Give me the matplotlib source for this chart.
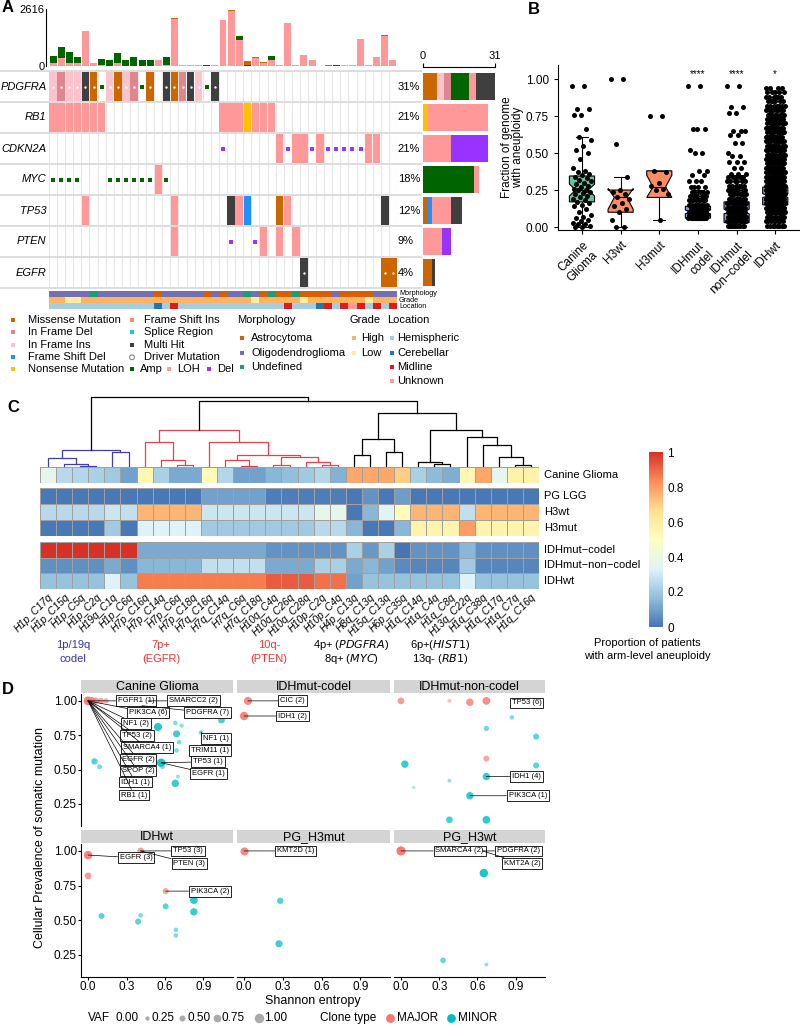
import numpy as np
import pandas as pd
import matplotlib
matplotlib.use("Agg")
import matplotlib.pyplot as plt
from matplotlib.patches import Rectangle
from matplotlib.colors import LinearSegmentedColormap

plt.rcParams['font.family'] = ['Liberation Sans', 'DejaVu Sans']
NARROW = ['Liberation Sans Narrow', 'Liberation Sans', 'DejaVu Sans']

W, H = 800, 1026


def px(x0, y0, x1, y1):
    # pixel box (top-left origin) -> figure fraction rect
    return [x0 / W, 1 - y1 / H, (x1 - x0) / W, (y1 - y0) / H]


# ---------------- Panel A data ----------------
genes = ['PDGFRA', 'RB1', 'CDKN2A', 'MYC', 'TP53', 'PTEN', 'EGFR']
gene_pct = ['31%', '21%', '21%', '18%', '12%', '9%', '4%']
# M missense, D in frame del, I in frame ins, F frame shift del, N nonsense,
# H multi hit, L LOH, a amp, d del, . none
onco = [
    'IDIIHMaIMIDaM.HMDHIaH' + '.' * 22,
    'LLLLLLL' + '.' * 14 + 'LLLNLLL' + '.' * 15,
    '.' * 21 + 'd' + '.' * 6 + 'LdLLdLdddddLL' + '..',
    'aaaa...aaaaaaLa' + '.' * 28,
    '....L' + '.' * 10 + 'L' + '.' * 6 + 'HLF...ML' + '.' * 11 + 'H.',
    '.' * 15 + 'L' + '.' * 6 + 'd..dL.L.L' + '.' * 12,
    '.' * 31 + 'H' + '.' * 9 + 'MM',
]
drivers = {'PDGFRA': [0, 1, 2, 3, 4, 5, 7, 8, 9, 10, 12, 14, 15, 16, 17, 18, 20],
           'EGFR': [31, 41, 42]}

tmb_loh = [153, 383, 138, 138, 1591, 138, 30, 0, 138, 0, 0, 0, 0, 275, 30, 2173, 30, 30, 30, 15, 30,
           2096, 2510, 1178, 15, 383, 138, 260, 30, 1989, 30, 505, 260, 15, 15, 0, 30, 30, 1224, 30,
           398, 1392, 260]
tmb_amp = [291, 490, 490, 291, 0, 0, 290, 260, 444, 260, 398, 290, 260, 0, 398, 0, 0, 0, 0, 30, 0,
           0, 0, 214, 15, 0, 0, 184, 0, 0, 0, 0, 0, 0, 0, 45, 0, 0, 0, 0, 0, 0, 0]
tmb_other = [0, 15, 0, 0, 15, 0, 0, 0, 0, 0, 0, 0, 0, 0, 0, 30, 0, 0, 0, 0, 0,
             0, 75, 0, 180, 30, 30, 0, 30, 0, 0, 15, 0, 0, 15, 0, 0, 0, 0, 0, 15, 30, 30]

bar_types = ['M', 'N', 'F', 'I', 'D', 'a', 'L', 'd', 'H']
bar_counts = [
    [6, 0, 0, 3, 3, 8, 3, 0, 8],
    [0, 2, 0, 0, 0, 0, 26, 0, 0],
    [0, 0, 0, 0, 0, 0, 12, 16, 0],
    [0, 0, 0, 0, 0, 22, 2, 0, 0],
    [2, 0, 2, 0, 0, 0, 8, 0, 5],
    [0, 0, 0, 0, 0, 0, 8, 4, 0],
    [4, 0, 0, 0, 0, 0, 0, 0, 1],
]

morphology = 'OOOOOUOOOOOOOAOOOOOAOAOOUOAUAAUAAAAOAAAAOOO'
grade = 'HHLL' + 'H' * 21 + 'L' + 'H' * 5 + 'L' + 'H' * 7 + 'L' + 'HHH'
location = 'H' * 13 + 'CHM' + 'H' * 13 + 'MHHHCMHMUMHMHM'

alt_colors = {'M': '#CC6600', 'D': '#E0868F', 'I': '#FBC3CB', 'F': '#1E90FF', 'N': '#FFC000',
              'S': '#FF8C69', 'R': '#1FC8D6', 'H': '#3F3F3F', 'L': '#FF9999',
              'a': '#006400', 'd': '#9933FF'}
morph_colors = {'A': '#D95F02', 'O': '#7570B3', 'U': '#1B9E77'}
grade_colors = {'H': '#FDB462', 'L': '#FFED9F'}
loc_colors = {'H': '#A6CEE3', 'C': '#1F78B4', 'M': '#E31A1C', 'U': '#FB9A99'}

# ---------------- Panel B data ----------------
b_groups = ['Canine\nGlioma', 'H3wt', 'H3mut', 'IDHmut\ncodel', 'IDHmut\nnon\u2212codel', 'IDHwt']
canine_vals = [0.95, 0.95, 0.80, 0.80, 0.76, 0.76, 0.66, 0.61, 0.59, 0.55, 0.52, 0.50, 0.46, 0.40,
               0.38, 0.37, 0.36, 0.35, 0.34, 0.33, 0.32, 0.31, 0.30, 0.29, 0.28, 0.27, 0.26, 0.25,
               0.25, 0.24, 0.23, 0.22, 0.21, 0.20, 0.19, 0.18, 0.17, 0.16, 0.15, 0.14, 0.12, 0.10,
               0.08, 0.07, 0.06, 0.05, 0.04, 0.03, 0.02, 0.02, 0.01, 0.0, 0.0]
h3wt_vals = [1.0, 1.0, 0.56, 0.34, 0.25, 0.24, 0.22, 0.20, 0.19, 0.16, 0.14, 0.12, 0.10, 0.05, 0.0, 0.0]
h3mut_vals = [0.75, 0.75, 0.38, 0.37, 0.30, 0.28, 0.26, 0.25, 0.22, 0.05]
codel_vals = [0.95, 0.66, 0.52, 0.50, 0.38, 0.35, 0.31, 0.27, 0.24, 0.21, 0.18, 0.15, 0.12, 0.10, 0.08, 0.06]
codel_cnt = [2, 3, 1, 2, 2, 2, 3, 4, 5, 6, 8, 10, 12, 12, 12, 10]
noncodel_vals = [0.95, 0.81, 0.77, 0.65, 0.62, 0.57, 0.50, 0.48, 0.44, 0.40, 0.36, 0.34, 0.31, 0.28,
                 0.25, 0.22, 0.19, 0.16, 0.13, 0.10, 0.07, 0.04, 0.01]
noncodel_cnt = [2, 2, 2, 3, 2, 2, 1, 2, 3, 2, 3, 5, 6, 6, 7, 8, 10, 12, 14, 14, 14, 12, 10]
wt_vals = [0.94, 0.91, 0.88, 0.85, 0.82, 0.79, 0.76, 0.73, 0.70, 0.67, 0.64, 0.61, 0.58, 0.55, 0.52,
           0.49, 0.46, 0.43, 0.40, 0.37, 0.34, 0.31, 0.28, 0.25, 0.22, 0.19, 0.16, 0.13, 0.10, 0.07,
           0.04, 0.01]
wt_cnt = [4, 5, 6, 6, 7, 8, 9, 9, 10, 10, 11, 12, 12, 12, 12, 12, 13, 14, 14, 15, 16, 18, 20, 22,
          24, 24, 22, 18, 14, 10, 8, 8]
# box statistics: med, q1, q3, whislo, whishi, cilo, cihi
box_med = [0.25, 0.20, 0.27, 0.10, 0.10, 0.21]
box_q1 = [0.17, 0.10, 0.20, 0.06, 0.03, 0.15]
box_q3 = [0.345, 0.25, 0.38, 0.14, 0.17, 0.27]
box_lo = [0.0, 0.0, 0.05, 0.05, 0.0, 0.0]
box_hi = [0.61, 0.34, 0.38, 0.25, 0.35, 0.45]
box_cilo = [0.21, 0.12, 0.20, 0.09, 0.09, 0.20]
box_cihi = [0.29, 0.26, 0.35, 0.115, 0.12, 0.225]
box_colors = ['#66C2A5', '#FC8D62', '#FC8D62', '#8DA0CB', '#8DA0CB', '#8DA0CB']
signif = ['', '', '', '****', '****', '*']

# ---------------- Panel C data ----------------
arms = ['H1p_C17q', 'H1p_C15q', 'H1p_C5q', 'H1p_C2q', 'H19q_C1q', 'H1p_C6q', 'H7p_C16q', 'H7p_C14q',
        'H7p_C6q', 'H7p_C18q', 'H7q_C16q', 'H7q_C14q', 'H7q_C6q', 'H7q_C18q', 'H10q_C4q', 'H10q_C26q',
        'H10q_C28q', 'H10p_C2q', 'H10p_C4q', 'H4p_C13q', 'H8q_C13q', 'H15q_C13q', 'H6p_C35q',
        'H1q_C14q', 'H1q_C4q', 'H1q_C8q', 'H13q_C22q', 'H1q_C38q', 'H1q_C17q', 'H1q_C7q', 'H1q_C16q']
hm_canine = [0.37, 0.25, 0.24, 0.22, 0.20, 0.10, 0.54, 0.22, 0.12, 0.12, 0.53, 0.24, 0.10, 0.10, 0.15,
             0.17, 0.20, 0.24, 0.14, 0.78, 0.78, 0.78, 0.70, 0.22, 0.16, 0.13, 0.54, 0.78, 0.37, 0.57, 0.57]
hm_pglgg = [0.01, 0.01, 0.01, 0.01, 0.01, 0.01, 0.01, 0.01, 0.01, 0.01, 0.10, 0.10, 0.10, 0.10, 0.02,
            0.02, 0.02, 0.02, 0.02, 0.01, 0.07, 0.01, 0.09, 0.01, 0.01, 0.01, 0.01, 0.01, 0.01, 0.01, 0.01]
hm_h3wt = [0.25, 0.25, 0.25, 0.25, 0.29, 0.27, 0.75, 0.75, 0.75, 0.75, 0.29, 0.29, 0.29, 0.29, 0.29,
           0.29, 0.29, 0.37, 0.37, 0.01, 0.15, 0.34, 0.52, 0.75, 0.75, 0.75, 0.27, 0.75, 0.75, 0.75, 0.75]
hm_h3mut = [0.01, 0.01, 0.01, 0.01, 0.20, 0.01, 0.33, 0.33, 0.33, 0.33, 0.20, 0.20, 0.20, 0.20, 0.20,
            0.20, 0.20, 0.25, 0.25, 0.15, 0.01, 0.01, 0.15, 0.56, 0.56, 0.56, 0.80, 0.56, 0.56, 0.56, 0.56]
hm_codel = [1.0, 1.0, 1.0, 1.0, 1.0, 1.0, 0.12, 0.12, 0.12, 0.12, 0.12, 0.12, 0.12, 0.12, 0.07, 0.07,
            0.07, 0.07, 0.07, 0.22, 0.08, 0.22, 0.0, 0.07, 0.07, 0.07, 0.15, 0.06, 0.06, 0.06, 0.06]
hm_noncodel = [0.06, 0.06, 0.06, 0.06, 0.12, 0.06, 0.15, 0.15, 0.15, 0.15, 0.27, 0.27, 0.27, 0.27, 0.12,
               0.12, 0.12, 0.22, 0.22, 0.12, 0.15, 0.10, 0.05, 0.04, 0.04, 0.04, 0.20, 0.04, 0.04, 0.04, 0.04]
hm_idhwt = [0.18, 0.18, 0.18, 0.18, 0.33, 0.18, 0.86, 0.86, 0.86, 0.86, 0.86, 0.86, 0.86, 0.86, 0.92,
            0.92, 0.92, 0.88, 0.88, 0.10, 0.18, 0.18, 0.18, 0.18, 0.18, 0.18, 0.33, 0.18, 0.18, 0.18, 0.18]
# dendrogram merges: (child a, child b, height); leaves 0..30, new nodes from 31
linkage = [(2, 3, 1.5), (1, 31, 3), (0, 32, 9), (4, 5, 15), (33, 34, 17),
           (8, 9, 2), (7, 36, 7), (6, 37, 25), (12, 13, 1.5), (11, 39, 7), (14, 15, 2), (17, 18, 2.5),
           (16, 42, 5), (41, 43, 10), (40, 44, 12), (10, 45, 25.3), (38, 46, 37),
           (19, 20, 12), (21, 22, 15.3), (48, 49, 28), (24, 25, 3), (23, 51, 5.3), (29, 30, 2),
           (28, 53, 10.3), (27, 54, 22), (26, 55, 30), (52, 56, 37), (50, 57, 54.3),
           (47, 58, 66.3), (35, 59, 70.3)]
clusters = ['blue'] * 5 + ['red'] * 12 + ['black'] * 13
group_lines = [('1p/19q', 'codel'), ('7p+', '(EGFR)'), ('10q-', '(PTEN)'),
               ('4p+ ($\\it{PDGFRA}$)', '8q+ ($\\it{MYC}$)'), ('6p+($\\it{HIST1}$)', '13q- ($\\it{RB1}$)')]
group_colors = ['#3333AA', '#EE3333', '#EE3333', 'black', 'black']

# ---------------- Panel D data ----------------
d_facet = (['Canine Glioma'] * 23 + ['IDHmut-codel'] * 2 + ['IDHmut-non-codel'] * 17 +
           ['IDHwt'] * 12 + ['PG_H3mut'] * 3 + ['PG_H3wt'] * 5)
d_entropy = [0.00, 0.03, 0.06, 0.10, 0.14, 0.42, 0.47, 0.545, 0.69, 0.68, 0.73, 0.71, 0.69, 0.57, 0.58,
             0.68, 0.70, 1.04, 0.88, 0.05, 0.09, 0.88, 1.01,
             0.03, 0.00,
             0.00, 0.38, 0.54, 0.67, 0.88, 0.67, 0.87, 0.67, 1.06, 0.03, 1.06, 0.67, 0.38, 0.10, 0.54,
             0.38, 0.67,
             0.00, 0.00, 0.41, 0.605, 0.105, 0.41, 0.39, 0.605, 0.825, 0.825, 0.685, 0.685,
             0.00, 0.28, 0.27,
             0.00, 0.64, 0.65, 0.33, 0.67]
d_cp = [1.00, 1.00, 1.00, 1.00, 1.00, 0.965, 1.00, 0.81, 0.76, 0.84, 0.82, 0.70, 0.64, 0.55, 0.52,
        0.40, 0.45, 0.86, 0.77, 0.56, 0.52, 0.615, 0.69,
        1.00, 0.89,
        1.00, 1.00, 0.99, 1.00, 1.00, 0.58, 0.88, 0.80, 0.74, 0.54, 0.53, 0.45, 0.42, 0.37, 0.31,
        0.135, 0.135,
        0.97, 0.82, 1.00, 0.71, 0.53, 0.535, 0.49, 0.60, 0.645, 0.56, 0.43, 0.39,
        1.00, 0.64, 0.33,
        1.00, 1.00, 0.84, 0.21, 0.18]
d_vaf = [0.90, 0.75, 0.60, 0.50, 0.40, 0.60, 0.50, 0.80, 0.65, 0.30, 0.25, 0.30, 0.30, 0.85, 0.30,
         0.70, 0.20, 0.60, 0.30, 0.55, 0.35, 0.25, 0.30,
         0.80, 0.85,
         0.60, 0.20, 0.70, 0.75, 0.40, 0.50, 0.30, 0.40, 0.50, 0.70, 0.50, 0.70, 0.20, 0.10, 0.70,
         0.60, 0.75,
         0.85, 0.60, 0.60, 0.50, 0.50, 0.30, 0.50, 0.50, 0.75, 0.70, 0.30, 0.30,
         0.80, 0.55, 0.65,
         0.95, 0.40, 0.85, 0.45, 0.20]
d_clone = (['MAJOR'] * 7 + ['MINOR'] * 16 + ['MAJOR'] * 2 + ['MAJOR'] * 6 + ['MINOR'] * 11 +
           ['MAJOR'] * 4 + ['MINOR'] * 8 + ['MAJOR'] + ['MINOR'] * 2 + ['MAJOR'] * 2 + ['MINOR'] * 3)

lab_facet = ['Canine Glioma'] * 15 + ['IDHmut-codel'] * 2 + ['IDHmut-non-codel'] * 3 + \
            ['IDHwt'] * 4 + ['PG_H3mut'] + ['PG_H3wt'] * 3
lab_text = ['FGFR1 (1)', 'SMARCC2 (2)', 'PIK3CA (6)', 'PDGFRA (7)', 'NF1 (2)', 'TP53 (2)',
            'SMARCA4 (1)', 'EGFR (2)', 'SPOP (2)', 'IDH1 (1)', 'RB1 (1)', 'NF1 (1)', 'TRIM11 (1)',
            'TP53 (1)', 'EGFR (1)', 'CIC (2)', 'IDH1 (2)', 'TP53 (6)', 'IDH1 (4)', 'PIK3CA (1)',
            'EGFR (3)', 'TP53 (3)', 'PTEN (3)', 'PIK3CA (2)', 'KMT2D (1)', 'SMARCA4 (2)',
            'PDGFRA (2)', 'KMT2A (2)']
lab_x = [0.0, 0.47, 0.0, 0.42, 0.0, 0.0, 0.0, 0.0, 0.0, 0.0, 0.0, 0.88, 0.88, 0.57, 0.57,
         0.03, 0.0, 0.88, 0.67, 0.54, 0.0, 0.41, 0.41, 0.605, 0.0, 0.0, 0.64, 0.64]
lab_y = [1.0, 1.0, 1.0, 0.965, 1.0, 1.0, 1.0, 1.0, 1.0, 1.0, 1.0, 0.77, 0.615, 0.55, 0.55,
         1.0, 0.89, 1.0, 0.45, 0.31, 0.97, 1.0, 1.0, 0.71, 1.0, 1.0, 1.0, 1.0]
lab_tx = [0.375, 0.82, 0.47, 0.93, 0.375, 0.38, 0.46, 0.39, 0.39, 0.37, 0.36, 1.0, 0.95, 0.935, 0.94,
          0.375, 0.375, 0.985, 0.984, 0.995, 0.375, 0.78, 0.79, 0.95, 0.40, 0.46, 0.92, 0.95]
lab_ty = [1.0, 1.0, 0.915, 0.915, 0.833, 0.75, 0.658, 0.576, 0.49, 0.41, 0.315, 0.726, 0.64, 0.557,
          0.47, 1.0, 0.89, 0.985, 0.45, 0.31, 0.95, 1.0, 0.91, 0.71, 1.0, 1.0, 1.0, 0.91]

facets = ['Canine Glioma', 'IDHmut-codel', 'IDHmut-non-codel', 'IDHwt', 'PG_H3mut', 'PG_H3wt']
clone_colors = {'MAJOR': '#F8766D', 'MINOR': '#00BFC4'}
vaf_levels = [0.0, 0.25, 0.5, 0.75, 1.0]

fig = plt.figure(figsize=(8, 10.26), dpi=100)

# =============== Panel A ===============
n_samp = len(onco[0])
cols = np.arange(n_samp) + 0.5

ax_t = fig.add_axes(px(49, 9, 397, 66))
loh = np.array(tmb_loh)
amp = np.array(tmb_amp)
ax_t.bar(cols, loh, width=0.86, color=alt_colors['L'], lw=0)
ax_t.bar(cols, amp, bottom=loh, width=0.86, color=alt_colors['a'], lw=0)
ax_t.bar(cols, tmb_other, bottom=loh + amp, width=0.86, color=alt_colors['M'], lw=0)
ax_t.set_xlim(0, n_samp)
ax_t.set_ylim(0, 2616)
for s in ['top', 'right', 'bottom']:
    ax_t.spines[s].set_visible(False)
ax_t.spines['left'].set_position(('outward', 2))
ax_t.set_xticks([])
ax_t.set_yticks([0, 2616])
ax_t.tick_params(axis='y', length=0, labelsize=8, pad=1)

ax_o = fig.add_axes(px(49, 71, 397, 288))
ax_o.set_xlim(0, n_samp)
ax_o.set_ylim(len(genes), 0)
ax_o.axis('off')
for c in range(n_samp + 1):
    ax_o.plot([c, c], [0, len(genes)], color='#E6E6E6', lw=0.8, zorder=0)
for r in range(len(genes) + 1):
    ax_o.plot([-6, 46], [r, r], color='#DADADA', lw=1.3, zorder=0, clip_on=False)
for r, row in enumerate(onco):
    for c, code in enumerate(row):
        if code in 'ad':
            ax_o.scatter(c + 0.5, r + 0.5, marker='s', s=5, color=alt_colors[code], lw=0, zorder=2)
        elif code != '.':
            ax_o.add_patch(Rectangle((c + 0.04, r + 0.04), 0.92, 0.92, color=alt_colors[code], lw=0, zorder=1))
for g, dc in drivers.items():
    r = genes.index(g)
    ax_o.scatter(np.array(dc) + 0.5, [r + 0.5] * len(dc), s=3, color='white', lw=0, zorder=3)
for r, (g, p) in enumerate(zip(genes, gene_pct)):
    ax_o.text(-0.3, r + 0.5, g, ha='right', va='center', fontsize=8, style='italic')
    ax_o.text(n_samp + 0.1, r + 0.5, p, ha='left', va='center', fontsize=8)

ax_r = fig.add_axes(px(423, 71, 495, 288))
left = np.zeros(len(genes))
for k, t in enumerate(bar_types):
    vals = np.array([bc[k] for bc in bar_counts])
    ax_r.barh(np.arange(len(genes)) + 0.5, vals, left=left, height=0.88, color=alt_colors[t], lw=0)
    left += vals
ax_r.set_xlim(0, 31)
ax_r.set_ylim(len(genes), 0)
for s in ['bottom', 'right', 'left']:
    ax_r.spines[s].set_visible(False)
ax_r.spines['top'].set_position(('outward', 3))
ax_r.xaxis.tick_top()
ax_r.set_xticks([0, 31])
ax_r.set_yticks([])
ax_r.tick_params(axis='x', labelsize=8, length=3, pad=1)

ax_a = fig.add_axes(px(49, 291, 397, 309))
ax_a.set_xlim(0, n_samp)
ax_a.set_ylim(3, 0)
ax_a.axis('off')
for r, (track, cmap) in enumerate(zip([morphology, grade, location], [morph_colors, grade_colors, loc_colors])):
    for c, code in enumerate(track):
        ax_a.add_patch(Rectangle((c, r), 1, 1, color=cmap[code], lw=0))
for k, name in enumerate(['Morphology', 'Grade', 'Location']):
    fig.text(399 / W, 1 - (294 + 6 * k) / H, name, fontsize=5.2, va='center', ha='left')

# legend for A
ax_l = fig.add_axes(px(0, 310, 560, 390))
ax_l.set_xlim(0, 560)
ax_l.set_ylim(390, 310)
ax_l.axis('off')
rows_y = [320, 332.3, 344.7, 357.3, 369.3]
col1 = [('M', 'Missense Mutation'), ('D', 'In Frame Del'), ('I', 'In Frame Ins'),
        ('F', 'Frame Shift Del'), ('N', 'Nonsense Mutation')]
for (code, lab), yy in zip(col1, rows_y):
    ax_l.scatter(12.7, yy, marker='s', s=10, color=alt_colors[code], lw=0)
    ax_l.text(28, yy, lab, fontsize=8, va='center')
col2 = [('S', 'Frame Shift Ins'), ('R', 'Splice Region'), ('H', 'Multi Hit')]
for (code, lab), yy in zip(col2, rows_y):
    ax_l.scatter(132, yy, marker='s', s=10, color=alt_colors[code], lw=0)
    ax_l.text(144, yy, lab, fontsize=8, va='center')
ax_l.scatter(132, rows_y[3], marker='o', s=12, facecolor='none', edgecolor='#888888', lw=0.8)
ax_l.text(144, rows_y[3], 'Driver Mutation', fontsize=8, va='center')
for code, lab, sx in [('a', 'Amp', 132), ('L', 'LOH', 169), ('d', 'Del', 209)]:
    ax_l.scatter(sx, rows_y[4], marker='s', s=10, color=alt_colors[code], lw=0)
    ax_l.text(sx + 8, rows_y[4], lab, fontsize=8, va='center')
sub_y = [338, 353, 367, 381]
ax_l.text(237, 320, 'Morphology', fontsize=8, va='center')
for (code, lab), yy in zip([('A', 'Astrocytoma'), ('O', 'Oligodendroglioma'), ('U', 'Undefined')], sub_y):
    ax_l.scatter(242, yy, marker='s', s=10, color=morph_colors[code], lw=0)
    ax_l.text(251, yy, lab, fontsize=8, va='center')
ax_l.text(350, 320, 'Grade', fontsize=8, va='center')
for (code, lab), yy in zip([('H', 'High'), ('L', 'Low')], sub_y):
    ax_l.scatter(354, yy, marker='s', s=10, color=grade_colors[code], lw=0)
    ax_l.text(361, yy, lab, fontsize=8, va='center')
ax_l.text(387, 320, 'Location', fontsize=8, va='center')
for (code, lab), yy in zip([('H', 'Hemispheric'), ('C', 'Cerebellar'), ('M', 'Midline'), ('U', 'Unknown')], sub_y):
    ax_l.scatter(392, yy, marker='s', s=10, color=loc_colors[code], lw=0)
    ax_l.text(397, yy, lab, fontsize=8, va='center')

# =============== Panel B ===============
ax_b = fig.add_axes(px(558, 65, 800, 230))
stats = []
for i in range(6):
    stats.append(dict(med=box_med[i], q1=box_q1[i], q3=box_q3[i], whislo=box_lo[i], whishi=box_hi[i],
                      cilo=box_cilo[i], cihi=box_cihi[i], fliers=[]))
pos = np.arange(1, 7)
bp = ax_b.bxp(stats, positions=pos, widths=0.65, shownotches=True, showfliers=False, patch_artist=True,
              capwidths=0.32,
              boxprops=dict(edgecolor='black', lw=0.8), medianprops=dict(color='black', lw=0.8),
              whiskerprops=dict(color='black', lw=0.8), capprops=dict(color='black', lw=0.8))
for patch, col in zip(bp['boxes'], box_colors):
    patch.set_facecolor(col)
groups_pts = [np.array(canine_vals), np.array(h3wt_vals), np.array(h3mut_vals),
              np.repeat(codel_vals, codel_cnt), np.repeat(noncodel_vals, noncodel_cnt),
              np.repeat(wt_vals, wt_cnt)]
for p, vals in zip(pos, groups_pts):
    jit = ((np.arange(len(vals)) * 0.618034) % 1 - 0.5) * 0.5
    ax_b.scatter(p + jit, vals, s=13, color='black', lw=0, zorder=4)
for p, s in zip(pos, signif):
    if s:
        ax_b.text(p, 1.035, s, ha='center', va='center', fontsize=7)
ax_b.set_xlim(0.38, 6.64)
ax_b.set_ylim(-0.02, 1.095)
ax_b.set_yticks([0, 0.25, 0.5, 0.75, 1.0])
ax_b.set_yticklabels(['0.00', '0.25', '0.50', '0.75', '1.00'])
ax_b.set_xticks(pos)
ax_b.set_xticklabels(b_groups, rotation=45, ha='right', rotation_mode='anchor', fontsize=8.5)
ax_b.tick_params(axis='y', labelsize=8.5, length=3)
ax_b.tick_params(axis='x', length=3)
ax_b.spines['top'].set_visible(False)
ax_b.spines['right'].set_visible(False)
ax_b.set_ylabel('Fraction of genome\nwith aneuploidy', fontsize=8.5, labelpad=1, linespacing=0.95)

# =============== Panel C ===============
cmap_c = LinearSegmentedColormap.from_list(
    'rdylbu', ['#4575B4', '#91BFDB', '#E0F3F8', '#FFFFBF', '#FEE090', '#FC8D59', '#D73027'])
blocks = [([hm_canine], ['Canine Glioma'], (467, 483)),
          ([hm_pglgg, hm_h3wt, hm_h3mut], ['PG LGG', 'H3wt', 'H3mut'], (488, 536)),
          ([hm_codel, hm_noncodel, hm_idhwt], ['IDHmut\u2212codel', 'IDHmut\u2212non\u2212codel', 'IDHwt'], (542, 589))]
for data, names, (y0, y1) in blocks:
    axh = fig.add_axes(px(40, y0, 539, y1))
    mesh = axh.pcolormesh(np.array(data), cmap=cmap_c, vmin=0, vmax=1, edgecolors='#A0A0A0', linewidth=0.7)
    axh.set_xlim(0, len(arms))
    axh.set_ylim(len(names), 0)
    for s in axh.spines.values():
        s.set_visible(False)
    axh.set_yticks([])
    axh.set_xticks([])
    for r, nm in enumerate(names):
        axh.text(len(arms) + 0.3, r + 0.5, nm, va='center', ha='left', fontsize=8)
axh.set_xticks(np.arange(len(arms)) + 0.5)
axh.set_xticklabels(arms, rotation=45, ha='right', rotation_mode='anchor', fontsize=7.5, style='italic')
axh.tick_params(axis='x', length=0, pad=2)

# dendrogram
ax_d = fig.add_axes(px(40, 395, 539, 467))
ax_d.set_xlim(0, len(arms))
ax_d.set_ylim(0, 72)
ax_d.axis('off')
node_x = {i: i + 0.5 for i in range(len(arms))}
node_h = {i: 0.0 for i in range(len(arms))}
dcol = {'blue': '#3F3FAF', 'red': '#E8404A', 'black': 'black'}
for k, (a, b, h) in enumerate(linkage):
    nid = len(arms) + k
    col = dcol[clusters[k]]
    xa, xb = node_x[a], node_x[b]
    ax_d.plot([xa, xa, xb, xb], [node_h[a], h, h, node_h[b]], color=col, lw=0.9)
    node_x[nid] = (xa + xb) / 2
    node_h[nid] = h

cax = fig.add_axes(px(649, 452, 663, 627))
cb = fig.colorbar(mesh, cax=cax, ticks=[0, 0.2, 0.4, 0.6, 0.8, 1])
cb.ax.set_yticklabels(['0', '0.2', '0.4', '0.6', '0.8', '1'])
cb.outline.set_visible(False)
cb.ax.tick_params(length=0, labelsize=8.5, pad=3)
fig.text(647 / W, 1 - 643 / H, 'Proportion of patients', ha='center', va='center', fontsize=8)
fig.text(647 / W, 1 - 656 / H, 'with arm-level aneuploidy', ha='center', va='center', fontsize=8)

for (l1, l2), gx, gc in zip(group_lines, [73, 161, 269, 351, 440], group_colors):
    fig.text(gx / W, 1 - 645 / H, l1, ha='center', va='center', fontsize=8, color=gc)
    fig.text(gx / W, 1 - 659 / H, l2, ha='center', va='center', fontsize=8, color=gc)

# =============== Panel D ===============
df = pd.DataFrame({'facet': d_facet, 'entropy': d_entropy, 'cp': d_cp, 'vaf': d_vaf, 'clone': d_clone})
labs = pd.DataFrame({'facet': lab_facet, 'text': lab_text, 'x': lab_x, 'y': lab_y, 'tx': lab_tx, 'ty': lab_ty})
fx = [(81, 233), (237, 390), (394, 545)]
fy = [(694, 826), (844, 977)]


def vaf_size(v):
    return (0.72 * (2.5 + 7.0 * np.asarray(v))) ** 2


for i, name in enumerate(facets):
    rr, cc = divmod(i, 3)
    x0, x1 = fx[cc]
    y0, y1 = fy[rr]
    axf = fig.add_axes(px(x0, y0, x1, y1))
    axs = fig.add_axes(px(x0, y0 - 14, x1, y0 - 1))
    axs.set_facecolor('#D4D4D4')
    axs.set_xticks([])
    axs.set_yticks([])
    for s in axs.spines.values():
        s.set_visible(False)
    axs.text(0.5, 0.45, name, ha='center', va='center', fontsize=9, transform=axs.transAxes, family=NARROW)
    sub = df[df.facet == name]
    for cl in ['MAJOR', 'MINOR']:
        ss = sub[sub.clone == cl]
        rgba = [(*matplotlib.colors.to_rgb(clone_colors[cl]), 0.3 + 0.7 * v) for v in ss.vaf]
        axf.scatter(ss.entropy, ss.cp, s=vaf_size(ss.vaf), c=rgba, lw=0, zorder=2)
    for _, lb in labs[labs.facet == name].iterrows():
        axf.annotate(lb.text, xy=(lb.x, lb.y), xytext=(lb.tx, lb.ty), ha='center', va='center',
                     fontsize=5.5, family=NARROW, zorder=5, annotation_clip=False,
                     bbox=dict(boxstyle='square,pad=0.25', fc='white', ec='black', lw=0.6),
                     arrowprops=dict(arrowstyle='-', color='black', lw=0.5, shrinkA=0, shrinkB=0))
    axf.set_xlim(-0.055, 1.13)
    axf.set_ylim(0.09, 1.05)
    axf.spines['top'].set_visible(False)
    axf.spines['right'].set_visible(False)
    axf.set_xticks([0, 0.3, 0.6, 0.9])
    axf.set_yticks([0.25, 0.5, 0.75, 1.0])
    axf.tick_params(labelsize=8.5, length=2, pad=1)
    for t in axf.get_xticklabels() + axf.get_yticklabels():
        t.set_family(NARROW)
    if cc != 0:
        axf.spines['left'].set_visible(False)
        axf.tick_params(axis='y', left=False, labelleft=False)
    if rr == 0:
        axf.spines['bottom'].set_visible(False)
        axf.tick_params(axis='x', bottom=False, labelbottom=False)
    else:
        axf.set_xticklabels(['0.0', '0.3', '0.6', '0.9'])
    if cc == 0:
        axf.set_yticklabels(['0.25', '0.50', '0.75', '1.00'])

fig.text(40 / W, 1 - 838 / H, 'Cellular Prevalence of somatic mutation', rotation=90, ha='center',
         va='center', fontsize=9)
fig.text(313 / W, 1 - 1001 / H, 'Shannon entropy', ha='center', va='center', fontsize=9, family=NARROW)

# legend for D
ax_g = fig.add_axes(px(0, 1010, 800, 1026))
ax_g.set_xlim(0, 800)
ax_g.set_ylim(0, 1)
ax_g.axis('off')
ax_g.text(88, 0.5, 'VAF', fontsize=8.5, va='center', family=NARROW)
vaf_pos = [110, 147, 182, 217, 259]
for v, xx in zip(vaf_levels, vaf_pos):
    if v > 0:
        ax_g.scatter(xx, 0.5, s=vaf_size(v), color='#AAAAAA', lw=0)
    ax_g.text(xx + 5, 0.5, '%.2f' % v, fontsize=8.5, va='center', family=NARROW)
ax_g.text(320, 0.5, 'Clone type', fontsize=8.5, va='center', family=NARROW)
for cl, xx in [('MAJOR', 390), ('MINOR', 451)]:
    ax_g.scatter(xx, 0.5, s=vaf_size(0.9), color=clone_colors[cl], lw=0)
    ax_g.text(xx + 7, 0.5, cl, fontsize=8.5, va='center', family=NARROW)

# panel letters
for letter, (lx, ly) in zip('ABCD', [(2, 8), (528, 10), (7, 408), (2, 690)]):
    fig.text(lx / W, 1 - ly / H, letter, fontsize=12, fontweight='bold', va='center', ha='left')

fig.savefig('out.png', dpi=100)
